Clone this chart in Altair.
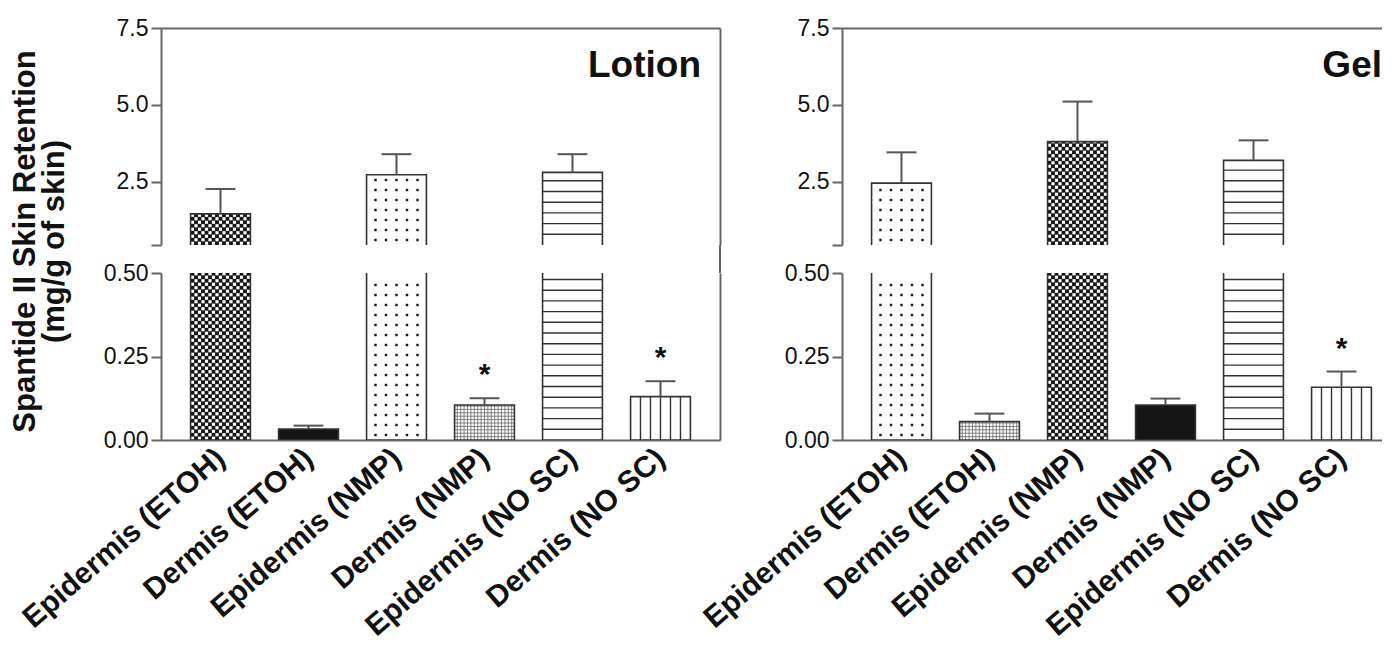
import json
import altair as alt
import numpy as np
import pandas as pd

# ---------------- data ----------------
categories = ["Epidermis (ETOH)", "Dermis (ETOH)", "Epidermis (NMP)",
              "Dermis (NMP)", "Epidermis (NO SC)", "Dermis (NO SC)"]
panel_names = ["Lotion", "Gel"]

lotion_mean = [1.46, 0.033, 2.73, 0.105, 2.81, 0.130]
lotion_top = [2.27, 0.043, 3.40, 0.125, 3.40, 0.176]      # mean + SD
lotion_pattern = ["checker", "solid", "dots", "grid", "hlines", "vlines"]
lotion_star = [0, 0, 0, 1, 0, 1]

gel_mean = [2.46, 0.055, 3.81, 0.105, 3.20, 0.158]
gel_top = [3.46, 0.079, 5.11, 0.124, 3.85, 0.205]
gel_pattern = ["dots", "grid", "checker", "solid", "hlines", "vlines"]
gel_star = [0, 0, 0, 0, 0, 1]

y_title = ["Spantide II Skin Retention", "(mg/g of skin)"]
low_domain = [0.0, 0.5]
up_domain = [0.45, 7.5]
low_ticks = [0.0, 0.25, 0.5]
up_ticks = [0.45, 2.5, 5.0, 7.5]

# ---------------- layout ----------------
STEP = 88.0                       # px per category
HALF = 0.34                       # half bar width (category units)
CAP = 0.17
W = [559, 540]
H_UP, H_LOW = 217, 167
X_DOMAINS = [[-0.676, -0.676 + W[0] / STEP], [-0.676, -0.676 + W[1] / STEP]]
PPU_LOW = H_LOW / (low_domain[1] - low_domain[0])
PPU_UP = H_UP / (up_domain[1] - up_domain[0])
FONT = "Liberation Sans"
AX = "#666666"
DARK = "#161616"


def bar_table(means, tops, patterns, stars):
    df = pd.DataFrame({
        "idx": list(range(len(categories))),
        "mean": means, "top": tops, "pattern": patterns, "star": stars,
    })
    df["base"] = 0.0
    df["x0"] = df["idx"] - HALF
    df["x1"] = df["idx"] + HALF
    df["c0"] = df["idx"] - CAP
    df["c1"] = df["idx"] + CAP
    df["fillc"] = [DARK if p in ("checker", "solid") else "white" for p in patterns]
    df["mark"] = ["*" if s else "" for s in stars]
    return df


def textures(df, seg):
    pts, rules = [], []
    for _, r in df.iterrows():
        i, m, pat = r["idx"], r["mean"], r["pattern"]
        if seg == "low":
            lo, hi, ppu = low_domain[0], min(m, low_domain[1]), PPU_LOW
        else:
            lo, hi, ppu = up_domain[0], m, PPU_UP
        if hi <= lo:
            continue
        hpx = (hi - lo) * ppu
        if pat == "dots":
            for yp in np.arange(5.0, hpx - 2.0, 10.0):
                for dx in (-21.0, -10.5, 0.0, 10.5, 21.0):
                    pts.append(dict(x=i + dx / STEP, y=lo + yp / ppu, c="#1a1a1a", s=6))
        elif pat == "checker":
            for row, yp in enumerate(np.arange(1.75, hpx, 3.5)):
                for col in range(17):
                    if (row + col) % 2 == 0:
                        pts.append(dict(x=i + (-28.0 + 3.5 * col) / STEP, y=lo + yp / ppu,
                                        c="white", s=10))
        elif pat == "hlines":
            for yp in np.arange(10.7, hpx - 2.0, 10.7):
                rules.append(dict(x=i - HALF, x2=i + HALF, y=lo + yp / ppu, y2=lo + yp / ppu,
                                  c="#333333", w=1.4))
        elif pat == "vlines":
            for dx in (-20.0, -10.0, 0.0, 10.0, 20.0):
                rules.append(dict(x=i + dx / STEP, x2=i + dx / STEP, y=lo, y2=hi,
                                  c="#333333", w=1.4))
        elif pat == "grid":
            for dx in np.arange(-27.2, 27.3, 3.4):
                rules.append(dict(x=i + dx / STEP, x2=i + dx / STEP, y=lo, y2=hi,
                                  c="#666666", w=0.8))
            for yp in np.arange(3.4, hpx - 1.0, 3.4):
                rules.append(dict(x=i - HALF, x2=i + HALF, y=lo + yp / ppu, y2=lo + yp / ppu,
                                  c="#666666", w=0.8))
    pts_df = pd.DataFrame(pts, columns=["x", "y", "c", "s"])
    rules_df = pd.DataFrame(rules, columns=["x", "x2", "y", "y2", "c", "w"])
    return pts_df, rules_df


def segment(p, df, seg):
    width = W[p]
    xsc = alt.Scale(domain=X_DOMAINS[p], nice=False, zero=False)
    if seg == "up":
        ysc = alt.Scale(domain=up_domain, nice=False, zero=False)
        xaxis = alt.Axis(orient="top", labels=False, ticks=False, title=None, grid=False)
        yargs = dict(values=up_ticks,
                     labelExpr="datum.value < 1 ? '' : format(datum.value, '.1f')",
                     grid=False, labelPadding=3)
        if p == 0:
            yargs.update(title=y_title, titleX=-151, titleY=213, titleAngle=270,
                         titleAlign="center", titleBaseline="top", titleFontSize=31,
                         titleFontWeight="bold", titleLineHeight=29, titleColor="#111111")
        else:
            yargs.update(title=None)
        yaxis = alt.Axis(**yargs)
        data = df[df["mean"] > up_domain[0]]
        err = df[df["mean"] > low_domain[1]]
        height = H_UP
    else:
        ysc = alt.Scale(domain=low_domain, nice=False, zero=False)
        label_expr = json.dumps(categories) + "[round(datum.value)]"
        xaxis = alt.Axis(orient="bottom", values=list(range(len(categories))),
                         labelExpr=label_expr, ticks=False, title=None, grid=False,
                         labelAngle=319, labelAlign="right", labelBaseline="middle",
                         labelFontSize=30, labelFontWeight="bold", labelPadding=14,
                         labelOverlap=False, labelFlush=False, labelBound=False,
                         labelLimit=500, labelColor="#111111")
        yaxis = alt.Axis(values=low_ticks, format=".2f", grid=False, title=None,
                         labelPadding=3)
        data = df
        err = df[df["top"] < low_domain[1]]
        height = H_LOW

    # every layer carries the same x axis so the shared axis is kept
    def X(field):
        return alt.X(field, scale=xsc, axis=xaxis)

    base = alt.Chart(data)
    fills = base.mark_bar(clip=True, strokeWidth=0).encode(
        x=X("x0:Q"),
        x2="x1:Q",
        y=alt.Y("mean:Q", scale=ysc, axis=yaxis),
        y2="base:Q",
        fill=alt.Fill("fillc:N", scale=None),
    )
    pts_df, rules_df = textures(data, seg)
    tex_pts = alt.Chart(pts_df).mark_square(clip=True, strokeWidth=0, opacity=1).encode(
        x=X("x:Q"),
        y=alt.Y("y:Q", scale=ysc, axis=None),
        color=alt.Color("c:N", scale=None),
        size=alt.Size("s:Q", scale=None),
    )
    tex_rules = alt.Chart(rules_df).mark_rule(clip=True).encode(
        x=X("x:Q"),
        x2="x2:Q",
        y=alt.Y("y:Q", scale=ysc, axis=None),
        y2="y2:Q",
        color=alt.Color("c:N", scale=None),
        strokeWidth=alt.StrokeWidth("w:Q", scale=None),
    )
    outline = base.mark_bar(clip=True, fillOpacity=0, stroke="#333333", strokeWidth=1.6).encode(
        x=X("x0:Q"),
        x2="x1:Q",
        y=alt.Y("mean:Q", scale=ysc, axis=None),
        y2="base:Q",
    )
    ebase = alt.Chart(err)
    stems = ebase.mark_rule(stroke="#555555", strokeWidth=2).encode(
        x=X("idx:Q"),
        y=alt.Y("mean:Q", scale=ysc, axis=None),
        y2="top:Q",
    )
    caps = ebase.mark_rule(stroke="#555555", strokeWidth=2).encode(
        x=X("c0:Q"),
        x2="c1:Q",
        y=alt.Y("top:Q", scale=ysc, axis=None),
    )
    layers = [fills, tex_pts, tex_rules, outline, stems, caps]

    if seg == "low":
        stars = ebase.mark_text(fontSize=30, fontWeight="bold", baseline="alphabetic",
                                dy=-14, color="#111111").encode(
            x=X("idx:Q"),
            y=alt.Y("top:Q", scale=ysc, axis=None),
            text="mark:N",
        )
        layers.append(stars)
    else:
        label = alt.Chart(pd.DataFrame({"name": [panel_names[p]]})).mark_text(
            align="right", baseline="alphabetic", fontSize=37, fontWeight="bold",
            color="#111111").encode(
            x=alt.value(540), y=alt.value(49), text="name:N")
        layers.append(label)

    if p == 0:
        frame = base.mark_rule(opacity=0, clip=True).encode(
            y=alt.Y("mean:Q", scale=ysc,
                    axis=alt.Axis(orient="right", labels=False, ticks=False,
                                  title=None, grid=False)))
        layers.append(frame)
        if seg == "low":
            gap = alt.Chart(pd.DataFrame({"k": [0]})).mark_rule(
                clip=False, stroke=AX, strokeWidth=2).encode(
                x=alt.value(width), y=alt.value(0), y2=alt.value(-28))
            layers.append(gap)

    return alt.layer(*layers).resolve_axis(y="independent").properties(
        width=width, height=height)


tables = [bar_table(lotion_mean, lotion_top, lotion_pattern, lotion_star),
          bar_table(gel_mean, gel_top, gel_pattern, gel_star)]

cells = [segment(0, tables[0], "up"), segment(1, tables[1], "up"),
         segment(0, tables[0], "low"), segment(1, tables[1], "low")]

chart = alt.concat(*cells, columns=2, spacing={"row": 28, "column": 122},
                   bounds="flush").properties(
    padding={"left": 1, "top": 9, "right": 0, "bottom": 0}
).configure(font=FONT).configure_view(strokeWidth=0).configure_axis(
    domainColor=AX, domainWidth=2, tickColor=AX, tickWidth=2, tickSize=10,
    labelColor="#111111", labelFontSize=23, labelFont=FONT, titleFont=FONT,
)

chart.save("out.html", embed_options={"renderer": "svg", "actions": False})
